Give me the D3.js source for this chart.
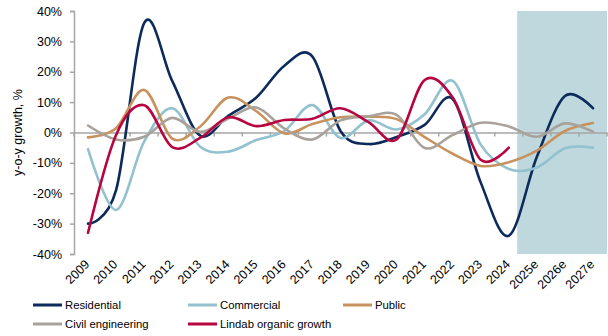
<!DOCTYPE html>
<html>
<head>
<meta charset="utf-8">
<script src="https://cdn.jsdelivr.net/npm/d3@7"></script>
<style>
  html, body { margin: 0; padding: 0; background: #fff; }
  svg { display: block; font-family: "Liberation Sans", Arial, sans-serif; }
</style>
</head>
<body>
<svg id="chart" width="608" height="336"></svg>
<script>
// Years on the x axis (e = estimate)
const categories = ["2009","2010","2011","2012","2013","2014","2015","2016","2017","2018",
                    "2019","2020","2021","2022","2023","2024","2025e","2026e","2027e"];

// Year-on-year growth, %
const residential = [-30, -19, 36, 17, -1, 5.5, 11.5, 22, 25, 0.5, -3.8, -1.5, 2.5, 11, -16.5, -34, -8, 12, 8];
const commercial  = [-5.5, -25.5, -3, 8, -4.7, -6.3, -2.5, 0.5, 9, -1.8, 4, 1, 6, 17, -4, -12, -11.5, -5.2, -5];
const publicSec   = [-1.6, 1.4, 14, -2, 2, 11.5, 7, -0.3, 2.8, 5, 5.2, 4.4, -1.5, -7, -11, -9.8, -6, 0.5, 3.1];
const civilEng    = [2.3, -2.3, -1.4, 4.8, 0.2, 4.6, 8.2, 1.3, -2.3, 4, 5.3, 5.8, -5.1, -0.8, 3.2, 2, -1.4, 3, 0.3];
const lindab      = [-33, -0.8, 9, -4.8, -1.8, 5, 2.1, 4.1, 4.5, 8, 3.4, -2.3, 17.3, 11.5, -9, -5];

const yTicks = [-40, -30, -20, -10, 0, 10, 20, 30, 40];
const forecastStart = "2025e";

const series = [
  { name: "Residential",            values: residential, color: "#0c2a5a" },
  { name: "Commercial",             values: commercial,  color: "#92c1cf" },
  { name: "Public",                 values: publicSec,   color: "#c8925f" },
  { name: "Civil engineering",      values: civilEng,    color: "#a8a29b" },
  { name: "Lindab organic growth",  values: lindab,      color: "#b6053f" }
];

const svg = d3.select("#chart");
const plot = { left: 74, right: 607, top: 11, bottom: 254 };

const x = d3.scaleBand().domain(categories).range([plot.left, plot.right]).padding(0);
const y = d3.scaleLinear().domain([-40, 40]).range([plot.bottom, plot.top]);
const cx = c => x(c) + x.bandwidth() / 2;

// Shaded forecast period
svg.append("rect")
  .attr("x", x(forecastStart) - 0.2 * x.step())
  .attr("y", y(40))
  .attr("width", plot.right - (x(forecastStart) - 0.2 * x.step()))
  .attr("height", y(-40) - y(40))
  .attr("fill", "#bed8de");

// Y axis
const yAxis = svg.append("g")
  .attr("transform", `translate(${plot.left},0)`)
  .call(d3.axisLeft(y).tickValues(yTicks).tickSize(4).tickPadding(8)
        .tickFormat(d => d + "%"));
yAxis.select(".domain").attr("stroke", "#a6a6a6").attr("stroke-width", 1.5);
yAxis.selectAll(".tick line").attr("stroke", "#a6a6a6").attr("stroke-width", 1.5);
yAxis.selectAll(".tick text")
  .attr("fill", "#000").attr("font-size", 12.5)
  .attr("font-family", "Liberation Sans, Arial, sans-serif");

// Zero line with category tick marks
const xAxis = svg.append("g")
  .attr("transform", `translate(0,${y(0)})`)
  .call(d3.axisBottom(x).tickSize(0).tickFormat(""));
xAxis.select(".domain").attr("stroke", "#a6a6a6").attr("stroke-width", 1.5);
xAxis.selectAll(".tick").remove();
xAxis.selectAll("line.bound")
  .data(d3.range(categories.length + 1))
  .join("line")
  .attr("class", "bound")
  .attr("x1", i => plot.left + i * x.step())
  .attr("x2", i => plot.left + i * x.step())
  .attr("y1", 0).attr("y2", 4)
  .attr("stroke", "#a6a6a6").attr("stroke-width", 1.5);

// Category labels, rotated
svg.append("g").selectAll("text")
  .data(categories)
  .join("text")
  .attr("transform", d => `translate(${cx(d) - 4},${plot.bottom + 5}) rotate(-45)`)
  .attr("text-anchor", "end")
  .attr("dy", "0.7em")
  .attr("font-size", 12.5)
  .attr("fill", "#000")
  .text(d => d);

// Y axis title
svg.append("text")
  .attr("transform", `translate(22,${(plot.top + plot.bottom) / 2}) rotate(-90)`)
  .attr("text-anchor", "middle")
  .attr("font-size", 12.5)
  .attr("fill", "#000")
  .text("y-o-y growth, %");

// Smoothed lines
const line = d3.line()
  .x((d, i) => cx(categories[i]))
  .y(d => y(d))
  .curve(d3.curveCatmullRom.alpha(0));

svg.append("g").selectAll("path")
  .data(series)
  .join("path")
  .attr("d", s => line(s.values))
  .attr("fill", "none")
  .attr("stroke", s => s.color)
  .attr("stroke-width", 2.6)
  .attr("stroke-linejoin", "round")
  .attr("stroke-linecap", "round");

// Legend
const legendPos = [
  { x: 33,  y: 305 }, { x: 188, y: 305 }, { x: 343, y: 305 },
  { x: 33,  y: 324 }, { x: 188, y: 324 }
];
const legend = svg.append("g").selectAll("g")
  .data(series)
  .join("g")
  .attr("transform", (s, i) => `translate(${legendPos[i].x},${legendPos[i].y})`);
legend.append("line")
  .attr("x1", 0).attr("x2", 29).attr("y1", 0).attr("y2", 0)
  .attr("stroke", s => s.color).attr("stroke-width", 3);
legend.append("text")
  .attr("x", 32).attr("y", 0).attr("dy", "0.35em")
  .attr("font-size", 11.3)
  .attr("fill", "#000")
  .text(s => s.name);
</script>
</body>
</html>
